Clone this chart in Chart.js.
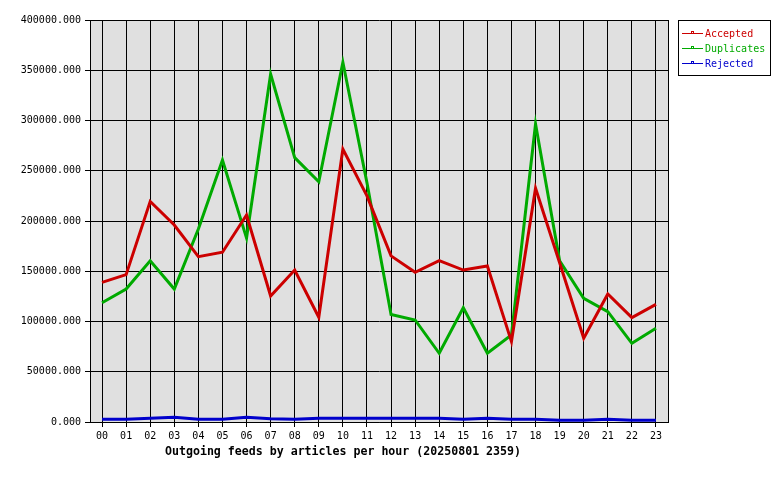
<!DOCTYPE html>
<html>
<head>
<meta charset="utf-8">
<script src="https://cdn.jsdelivr.net/npm/chart.js@4/dist/chart.umd.min.js"></script>
<style>
html,body{margin:0;padding:0;background:#fff;}
#wrap{width:780px;height:480px;position:relative;}
</style>
</head>
<body>
<div id="wrap"><canvas id="c" width="780" height="480"></canvas></div>
<script>
const hours = ["00","01","02","03","04","05","06","07","08","09","10","11","12","13","14","15","16","17","18","19","20","21","22","23"];
const accepted = [139000,146600,219500,196000,164500,168900,206000,125400,151200,104200,271600,225000,165300,149000,160500,151200,155200,80000,232600,158500,83300,127400,103800,117100];
const duplicates = [118700,132300,160500,132300,192000,260700,183000,346300,263000,239100,357900,238000,107000,101500,68400,113700,68400,86600,296500,160500,123100,109800,78300,93200];
const rejected = [2700,2700,3700,4700,2700,2700,4700,3200,2700,3700,3700,3700,3700,3700,3700,2700,3700,2700,2700,1700,1700,2700,1700,1700];
const yTicks = [0,50000,100000,150000,200000,250000,300000,350000,400000];
const titleText = "Outgoing feeds by articles per hour (20250801 2359)";
const seriesNames = ["Accepted","Duplicates","Rejected"];
const seriesColors = ["#cc0000","#00aa00","#0000cc"];

const MONO = '"DejaVu Sans Mono", "Liberation Mono", monospace';

const frame = {
  id: 'frame',
  beforeDraw(chart) {
    const {ctx, chartArea: a} = chart;
    ctx.save();
    ctx.fillStyle = '#e0e0e0';
    ctx.fillRect(a.left, a.top, a.right - a.left, a.bottom - a.top);
    ctx.restore();
  },
  afterDraw(chart) {
    const {ctx, chartArea: a} = chart;
    ctx.save();
    ctx.strokeStyle = '#000';
    ctx.lineWidth = 1;
    ctx.beginPath();
    ctx.moveTo(Math.round(a.right) + 0.5, a.top);
    ctx.lineTo(Math.round(a.right) + 0.5, a.bottom);
    ctx.stroke();
    // title
    ctx.fillStyle = '#000';
    ctx.font = 'bold 11.6px ' + MONO;
    ctx.textAlign = 'center';
    ctx.textBaseline = 'middle';
    ctx.fillText(titleText, 343, 452);
    // legend box
    const lx = 678.5, ly = 20.5, lw = 92, lh = 55;
    ctx.fillStyle = '#fff';
    ctx.fillRect(lx, ly, lw, lh);
    ctx.strokeStyle = '#000';
    ctx.lineWidth = 1;
    ctx.strokeRect(lx, ly, lw, lh);
    ctx.font = '10px ' + MONO;
    ctx.textAlign = 'left';
    seriesNames.forEach((name, i) => {
      const y = 33 + i * 15;
      const col = seriesColors[i];
      ctx.strokeStyle = col;
      ctx.fillStyle = col;
      ctx.lineWidth = 1;
      ctx.fillRect(682, y, 21, 1);
      ctx.strokeRect(691.5, y - 1.5, 2, 2);
      ctx.fillText(name, 705, y + 1);
    });
    ctx.restore();
  }
};

const mk = (i, data) => ({
  label: seriesNames[i],
  data: data,
  borderColor: seriesColors[i],
  backgroundColor: seriesColors[i],
  borderWidth: 3,
  pointRadius: 0,
  tension: 0,
  fill: false
});

new Chart(document.getElementById('c'), {
  type: 'line',
  data: {
    labels: hours,
    datasets: [mk(0, accepted), mk(1, duplicates), mk(2, rejected)]
  },
  options: {
    responsive: false,
    animation: false,
    devicePixelRatio: 1,
    layout: { padding: { left: 0, right: 112, top: 20, bottom: 0 } },
    plugins: { legend: { display: false }, tooltip: { enabled: false }, title: { display: false } },
    scales: {
      x: {
        type: 'category',
        offset: true,
        grid: { color: '#000', lineWidth: 1, tickLength: 5, offset: false, drawTicks: true },
        border: { color: '#000', width: 1 },
        ticks: { color: '#000', font: { family: MONO, size: 10 }, padding: 3, maxRotation: 0, autoSkip: false },
        afterFit(s) { s.height = 58; }
      },
      y: {
        min: 0, max: 400000,
        afterBuildTicks(s) { s.ticks = yTicks.map(v => ({ value: v })); },
        grid: { color: '#000', lineWidth: 1, tickLength: 5 },
        border: { color: '#000', width: 1 },
        ticks: { color: '#000', font: { family: MONO, size: 10 }, padding: 4, callback: v => Number(v).toFixed(3) },
        afterFit(s) { s.width = 90; }
      }
    }
  },
  plugins: [frame]
});
</script>
</body>
</html>
